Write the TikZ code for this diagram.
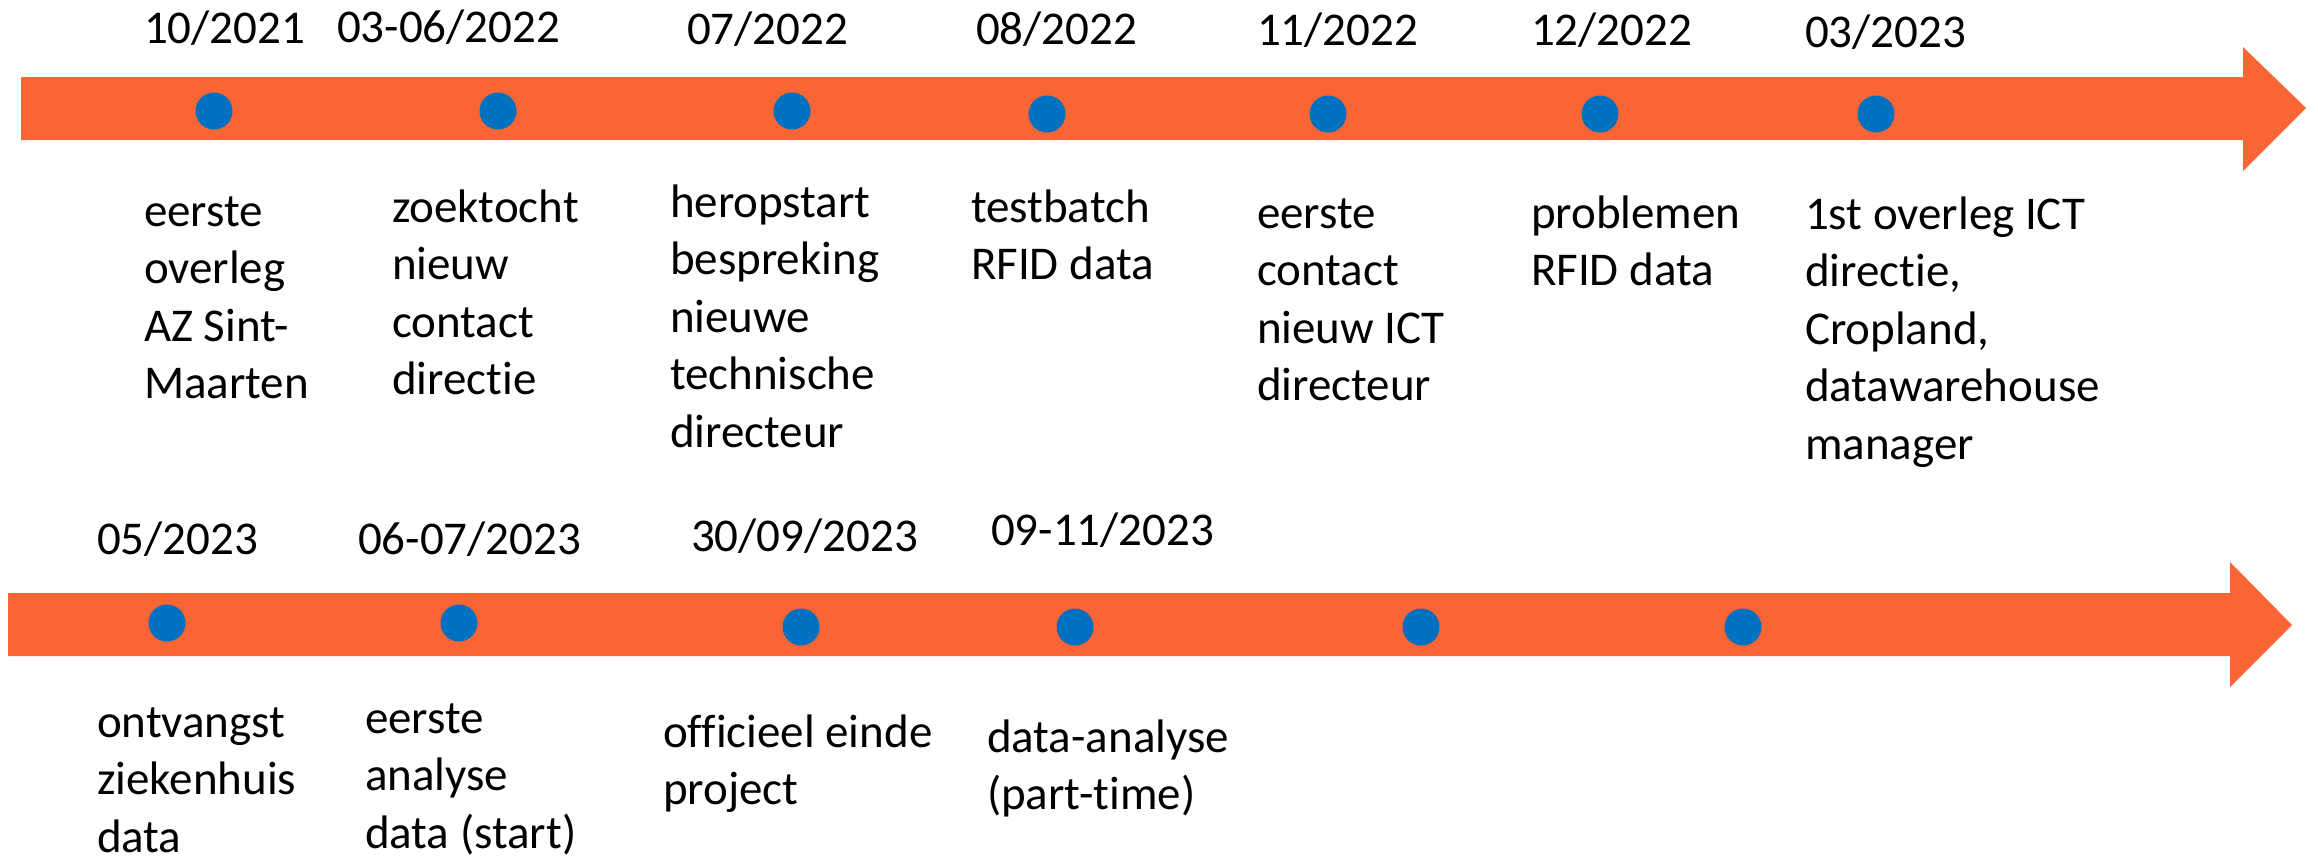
\documentclass[tikz,border=0pt]{standalone}
\usepackage{fontspec}
\setmainfont{Carlito}[Ligatures=NoCommon]
\definecolor{barorange}{HTML}{F96535}
\definecolor{dotblue}{HTML}{0070C0}
% left-aligned block of lines whose baseline is the first line
\newcommand\linesblock[1]{\begin{tabular}[t]{@{}l@{}}#1\end{tabular}}
\begin{document}
\begin{tikzpicture}[x=0.5pt,y=-0.5pt,
  every node/.style={inner sep=0pt,outer sep=0pt},
  datelabel/.style={anchor=base west,font=\fontsize{23.5}{28.75}\selectfont},
  eventlabel/.style={anchor=base west,font=\fontsize{23.5}{28.75}\selectfont},
  milestone/.style={circle,fill=dotblue,minimum size=18.5pt},
  band/.style={fill=barorange}]
\useasboundingbox (0,0) rectangle (2318,857);

% ---------- first timeline ----------
\fill[band] (21,77) -- (2243,77) -- (2243,47) -- (2306,108) -- (2243,171)
  -- (2243,140) -- (21,140) -- cycle;

\node[milestone] (d1) at (214,111) {};
\node[milestone] (d2) at (498,111) {};
\node[milestone] (d3) at (792,111) {};
\node[milestone] (d4) at (1047,114) {};
\node[milestone] (d5) at (1328,114) {};
\node[milestone] (d6) at (1600,114) {};
\node[milestone] (d7) at (1876,114) {};

\node[datelabel] (t1) at (144,43) {10/2021};
\node[datelabel] (t2) at (337,42) {03-06/2022};
\node[datelabel] (t3) at (687,44) {07/2022};
\node[datelabel] (t4) at (976,44) {08/2022};
\node[datelabel] (t5) at (1257,45) {11/2022};
\node[datelabel] (t6) at (1531,45) {12/2022};
\node[datelabel] (t7) at (1805,47) {03/2023};

\node[eventlabel] (e1) at (144,226) {\linesblock{eerste\\overleg\\AZ Sint-\\Maarten}};
\node[eventlabel] (e2) at (392,222) {\linesblock{zoektocht\\nieuw\\contact\\directie}};
\node[eventlabel] (e3) at (670,217) {\linesblock{heropstart\\bespreking\\nieuwe\\technische\\directeur}};
\node[eventlabel] (e4) at (971,222) {\linesblock{testbatch\\RFID data}};
\node[eventlabel] (e5) at (1257,228) {\linesblock{eerste\\contact\\nieuw ICT\\directeur}};
\node[eventlabel] (e6) at (1531,228) {\linesblock{problemen\\RFID data}};
\node[eventlabel] (e7) at (1805,229) {\linesblock{1st overleg ICT\\directie,\\Cropland,\\datawarehouse\\manager}};

% ---------- second timeline ----------
\fill[band] (8,593) -- (2230,593) -- (2230,562) -- (2292,625) -- (2230,687)
  -- (2230,656) -- (8,656) -- cycle;

\node[milestone] (f1) at (167,623) {};
\node[milestone] (f2) at (459,623) {};
\node[milestone] (f3) at (801,627) {};
\node[milestone] (f4) at (1075,627) {};
\node[milestone] (f5) at (1421,627) {};
\node[milestone] (f6) at (1743,627) {};

\node[datelabel] (u1) at (97,554) {05/2023};
\node[datelabel] (u2) at (358,554) {06-07/2023};
\node[datelabel] (u3) at (691,551) {30/09/2023};
\node[datelabel] (u4) at (991,545) {09-11/2023};

\node[eventlabel] (g1) at (97,737) {\linesblock{ontvangst\\ziekenhuis\\data}};
\node[eventlabel] (g2) at (365,733) {\linesblock{eerste\\analyse\\data (start)}};
\node[eventlabel] (g3) at (663,747) {\linesblock{officieel einde\\project}};
\node[eventlabel] (g4) at (987,752) {\linesblock{data-analyse\\(part-time)}};
\end{tikzpicture}
\end{document}
